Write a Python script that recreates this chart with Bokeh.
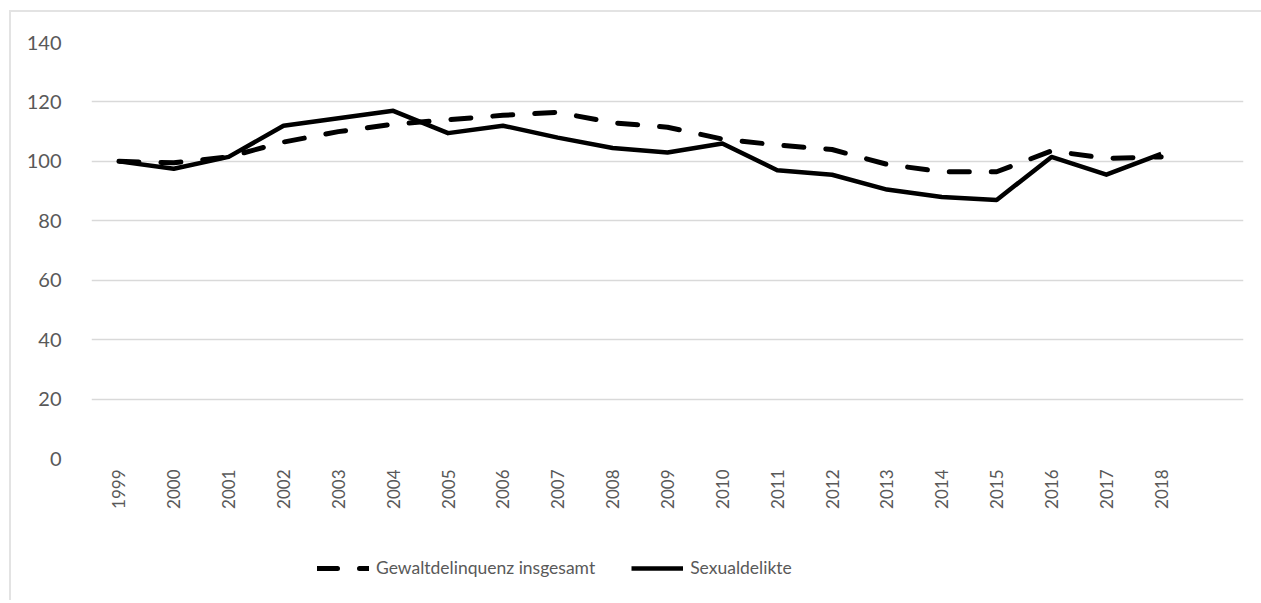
import numpy as np
from math import pi
from bokeh.plotting import figure
from bokeh.layouts import column
from bokeh.models import FixedTicker, Range1d, Legend, LegendItem
from bokeh.embed import file_html
from bokeh.resources import INLINE

years = ["1999", "2000", "2001", "2002", "2003", "2004", "2005", "2006", "2007", "2008",
         "2009", "2010", "2011", "2012", "2013", "2014", "2015", "2016", "2017", "2018"]
gewalt = [100, 99.5, 101.5, 106.5, 110, 112.5, 114, 115.5, 116.5, 113,
          111.5, 107.5, 105.5, 104, 99, 96.5, 96.5, 103.5, 101, 101.5]
sexual = [100, 97.5, 101.5, 112, 114.5, 117, 109.5, 112, 108, 104.5,
          103, 106, 97, 95.5, 90.5, 88, 87, 101.5, 95.5, 102.5]
y_ticks = [0, 20, 40, 60, 80, 100, 120, 140]
series_names = ["Gewaltdelinquenz insgesamt", "Sexualdelikte"]

x = list(range(len(years)))
DASH = "20 22"

p = figure(width=1250, height=518, output_backend="svg", toolbar_location=None,
           x_range=Range1d(-0.5, len(years) + 0.5), y_range=Range1d(0, 140),
           min_border_left=80, min_border_right=18, min_border_top=30, min_border_bottom=72)
p.outline_line_color = None
p.background_fill_color = "white"
p.border_fill_color = "white"

p.line(x, gewalt, line_color="black", line_width=5, line_dash=DASH, line_cap="round")
p.line(x, sexual, line_color="black", line_width=4.5, line_join="round")

p.xgrid.grid_line_color = None
p.ygrid.grid_line_color = "#d9d9d9"
p.ygrid.grid_line_width = 1.5
p.yaxis.ticker = FixedTicker(ticks=y_ticks)
p.xaxis.ticker = FixedTicker(ticks=x)
p.xaxis.major_label_overrides = {i: y for i, y in zip(x, years)}
p.xaxis.major_label_orientation = pi / 2

for ax in (p.xaxis[0], p.yaxis[0]):
    ax.axis_line_color = None
    ax.major_tick_line_color = None
    ax.minor_tick_line_color = None
    ax.major_label_text_color = "#595959"
    ax.major_label_text_font = "Lato"
p.yaxis.major_label_text_font_size = "20px"
p.xaxis.major_label_text_font_size = "17px"
p.yaxis.major_label_standoff = 24
p.xaxis.major_label_standoff = 5

# legend figure
lf = figure(width=1250, height=70, output_backend="svg", toolbar_location=None,
            x_range=Range1d(0, 1), y_range=Range1d(0, 1),
            x_axis_type=None, y_axis_type=None,
            min_border=0, min_border_left=0, min_border_right=0, min_border_top=0, min_border_bottom=0)
lf.grid.visible = False
lf.outline_line_color = None
lf.border_fill_color = "white"
lf.background_fill_color = "white"
d1 = lf.line([5, 6], [5, 6], line_color="black", line_width=5, line_dash=DASH, line_cap="round")
d2 = lf.line([5, 6], [5, 6], line_color="black", line_width=4.5)
legend = Legend(items=[LegendItem(label=series_names[0], renderers=[d1]),
                       LegendItem(label=series_names[1], renderers=[d2])],
                orientation="horizontal", location=(226, 22),
                label_text_font="Lato", label_text_font_size="17.5px", label_text_color="#595959",
                glyph_width=52, glyph_height=20, label_standoff=7, spacing=36,
                border_line_color=None, background_fill_alpha=0, margin=0, padding=0)
lf.add_layout(legend, "center")

layout = column(p, lf, spacing=0, margin=(10, 0, 0, 9),
                styles={"border-top": "2px solid #e3e3e3", "border-left": "2px solid #e3e3e3"})

open("out.html", "w").write(file_html(layout, INLINE))
